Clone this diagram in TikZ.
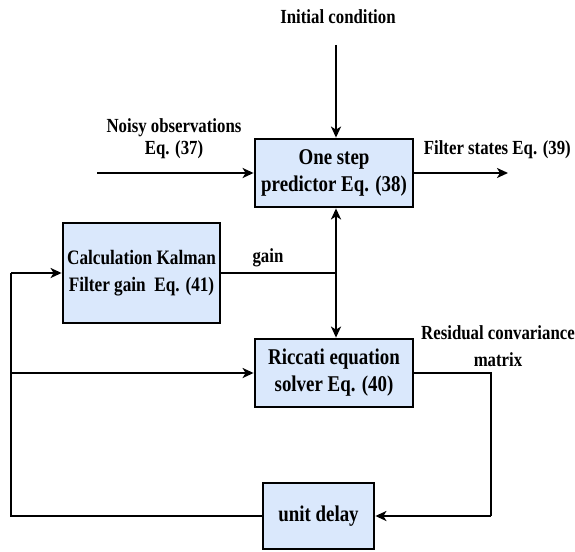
\documentclass[tikz,border=0pt]{standalone}
\usepackage{fontspec}
\setmainfont{Liberation Serif}[FakeStretch=0.84]
\usetikzlibrary{arrows.meta}
\definecolor{boxfill}{HTML}{DAE8FC}
\tikzset{
  blk/.style={draw=black, line width=2.8pt, fill=boxfill, rectangle, inner sep=0pt, align=center,
    font=\bfseries\fontsize{22.5}{27}\selectfont},
  smallblk/.style={blk, font=\bfseries\fontsize{20.5}{27}\selectfont},
  lbl/.style={inner sep=0pt, align=center, font=\bfseries\fontsize{20}{22}\selectfont},
  conn/.style={line width=2.4pt, draw=black},
  arr/.style={conn, -{Stealth[length=11pt,width=10pt,inset=3pt]}},
}
\begin{document}
\begin{tikzpicture}[x=1pt,y=-1pt]
\useasboundingbox (0,0) rectangle (575,551);
% blocks
\node[blk, minimum width=158pt, minimum height=68pt] (pred) at (334,173) {One step\\predictor Eq. (38)};
\node[smallblk, minimum width=157pt, minimum height=100pt] (kal) at (141.5,273) {Calculation Kalman\\Filter gain\ \ Eq. (41)};
\node[blk, minimum width=158pt, minimum height=68pt] (ric) at (334,373) {Riccati equation\\solver Eq. (40)};
\node[blk, minimum width=111pt, minimum height=66pt] (delay) at (318.5,516) {unit delay};
% coordinates
\coordinate (ictop) at (336,45);
\coordinate (noisy) at (97,173);
\coordinate (out) at (508,173);
\coordinate (gj) at (336,273);
\coordinate (rr) at (491,373);
\coordinate (rb) at (491,516);
\coordinate (lb) at (11,516);
\coordinate (lm) at (11,373);
\coordinate (lt) at (11,273);
% labels
\node[lbl] (ic) at (338,17) {Initial condition};
\node[lbl] (nl) at (174,139) {Noisy observations\\Eq. (37)};
\node[lbl, anchor=east] (fl) at (571,150) {Filter states Eq. (39)};
\node[lbl] (gl) at (268,258) {gain};
\node[lbl, font=\bfseries\fontsize{20}{27}\selectfont] (rl) at (498,346) {Residual convariance\\matrix};
% connectors
\draw[arr] (ictop) -- (ictop |- pred.north);
\draw[arr] (noisy) -- (pred.west);
\draw[arr] (pred.east) -- (out);
\draw[conn] (kal.east) -- (gj);
\draw[arr] (gj) -- (gj |- pred.south);
\draw[arr] (gj) -- (gj |- ric.north);
\draw[conn] (ric.east |- rr) -- (rr) -- (rb);
\draw[arr] (rb) -- (delay.east);
\draw[conn] (delay.west) -- (lb) -- (lt);
\draw[arr] (lt) -- (kal.west);
\draw[arr] (lm) -- (ric.west |- lm);
\end{tikzpicture}
\end{document}
